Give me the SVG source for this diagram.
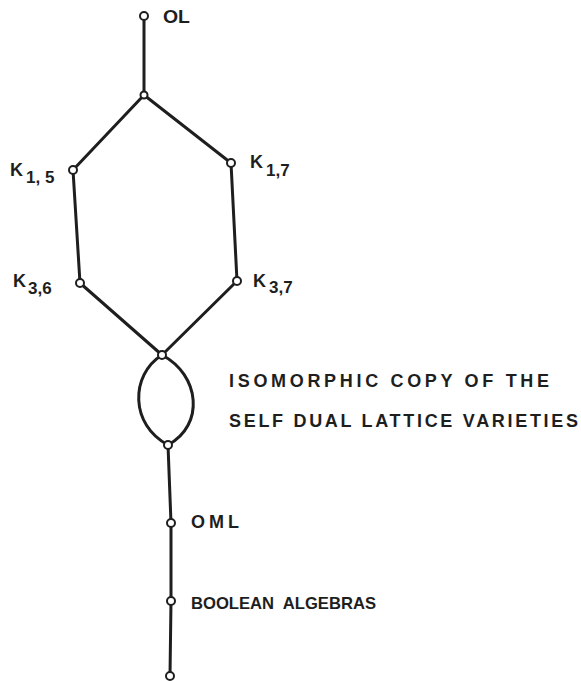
<svg xmlns="http://www.w3.org/2000/svg" width="581" height="681" viewBox="0 0 581 681">
<style>
.e{stroke:#1e1e1e;stroke-width:3;fill:none;stroke-linecap:round}
.n{fill:#fff;stroke:#1e1e1e;stroke-width:2}
.t{font-family:"Liberation Sans",Arial,sans-serif;font-weight:bold;fill:#1e1e1e;font-size:18px}
.k{font-family:"Liberation Sans",Arial,sans-serif;font-weight:bold;fill:#1e1e1e;font-size:18px}
.s{font-size:17px}
</style>
<rect width="581" height="681" fill="#fff"/>
<g id="connectors">
<line class="e" x1="144" y1="16" x2="144" y2="95"/>
<line class="e" x1="144" y1="95" x2="73" y2="170"/>
<line class="e" x1="144" y1="95" x2="231" y2="163"/>
<line class="e" x1="73" y1="170" x2="80" y2="283"/>
<line class="e" x1="231" y1="163" x2="237" y2="281"/>
<line class="e" x1="80" y1="283" x2="162" y2="355"/>
<line class="e" x1="237" y1="281" x2="162" y2="355"/>
<path class="e" d="M162 355 C130 375 130 425 168 445"/>
<path class="e" d="M162 355 C200 375 205 425 168 445"/>
<line class="e" x1="168" y1="445" x2="171" y2="523"/>
<line class="e" x1="171" y1="523" x2="171" y2="601"/>
<line class="e" x1="171" y1="601" x2="170" y2="676"/>
</g>
<g id="OL"><circle class="n" cx="144" cy="16" r="4"/><text class="t" x="163" y="23" textLength="27" lengthAdjust="spacingAndGlyphs">OL</text></g>
<g id="top"><circle class="n" cx="144" cy="95" r="3.5"/></g>
<g id="K15"><circle class="n" cx="73" cy="170" r="4"/><text class="k" x="10" y="176">K<tspan class="s" dx="3" dy="7">1, 5</tspan></text></g>
<g id="K17"><circle class="n" cx="231" cy="163" r="4"/><text class="k" x="250" y="168">K<tspan class="s" dx="3" dy="8">1,7</tspan></text></g>
<g id="K36"><circle class="n" cx="80" cy="283" r="4"/><text class="k" x="13" y="287">K<tspan class="s" dx="2" dy="7">3,6</tspan></text></g>
<g id="K37"><circle class="n" cx="237" cy="281" r="4"/><text class="k" x="253" y="287">K<tspan class="s" dx="3" dy="6">3,7</tspan></text></g>
<g id="lensTop"><circle class="n" cx="162" cy="355" r="4"/></g>
<g id="lensLabel">
<text class="t" x="229" y="387" textLength="320" lengthAdjust="spacing">ISOMORPHIC COPY OF THE</text>
<text class="t" x="229" y="427" textLength="349" lengthAdjust="spacing">SELF DUAL LATTICE VARIETIES</text>
</g>
<g id="lensBottom"><circle class="n" cx="168" cy="445" r="4"/></g>
<g id="OML"><circle class="n" cx="171" cy="523" r="4"/><text class="t" x="191" y="528" textLength="48" lengthAdjust="spacing">OML</text></g>
<g id="BA"><circle class="n" cx="171" cy="601" r="4"/><text class="t" x="191" y="609" xml:space="preserve" style="font-size:17px" textLength="185" lengthAdjust="spacingAndGlyphs">BOOLEAN  ALGEBRAS</text></g>
<g id="bottom"><circle class="n" cx="170" cy="676" r="4"/></g>
</svg>
